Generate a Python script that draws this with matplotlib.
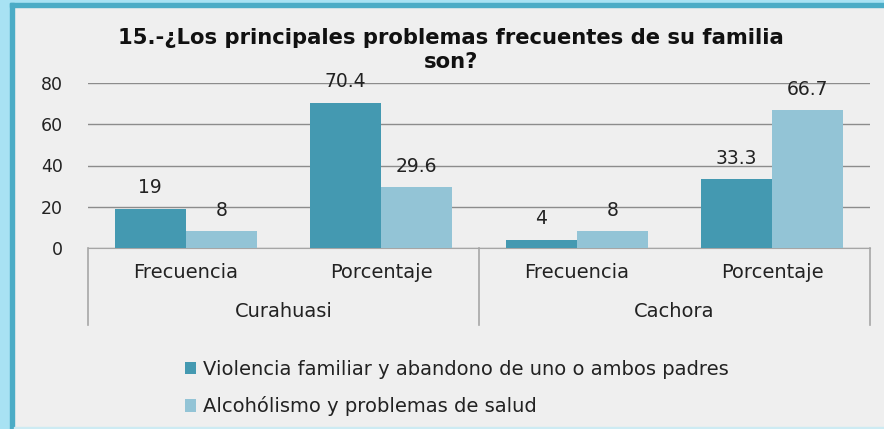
import numpy as np
import matplotlib
matplotlib.use("Agg")
import matplotlib.pyplot as plt
from matplotlib.patches import Rectangle
from matplotlib.lines import Line2D

plt.rcParams['font.family'] = ['DejaVu Sans']

# data
groups = ["Curahuasi", "Cachora"]
categories = ["Frecuencia", "Porcentaje", "Frecuencia", "Porcentaje"]
violencia = [19, 70.4, 4, 33.3]
alcoholismo = [8, 29.6, 8, 66.7]
violencia_labels = ["19", "70.4", "4", "33.3"]
alcoholismo_labels = ["8", "29.6", "8", "66.7"]
series_names = ["Violencia familiar y abandono de uno o ambos padres",
                "Alcohólismo y problemas de salud"]

dark = "#4499B1"
light = "#93C4D6"
bg = "#EFEFEF"
txt = "#222222"

W, H = 884, 429
fig = plt.figure(figsize=(W / 100, H / 100), dpi=100, facecolor=bg)

# frame (left + top border like the original image)
fig.patches.append(Rectangle((0, 0), 10 / W, 1, transform=fig.transFigure,
                             color="#A8E2F3", zorder=0))
fig.patches.append(Rectangle((0, 1 - 3 / H), 1, 3 / H, transform=fig.transFigure,
                             color="#A8E2F3", zorder=0))
fig.patches.append(Rectangle((10 / W, 0), 4 / W, 1 - 3 / H, transform=fig.transFigure,
                             color="#4BACC6", zorder=1))
fig.patches.append(Rectangle((10 / W, 1 - 7 / H), 1, 4 / H, transform=fig.transFigure,
                             color="#4BACC6", zorder=1))
fig.patches.append(Rectangle((14 / W, 0), 1, 2 / H, transform=fig.transFigure,
                             color="#CDEBF3", zorder=1))

ax = fig.add_axes([88 / W, 1 - 248 / H, (870 - 88) / W, (248 - 83) / H])
ax.set_facecolor(bg)

x = np.arange(len(categories))
bw = 0.363
b1 = ax.bar(x - bw / 2, violencia, bw, color=dark, zorder=3, label=series_names[0])
b2 = ax.bar(x + bw / 2, alcoholismo, bw, color=light, zorder=3, label=series_names[1])

for bars, labs in [(b1, violencia_labels), (b2, alcoholismo_labels)]:
    for rect, lab in zip(bars, labs):
        ax.annotate(lab, (rect.get_x() + rect.get_width() / 2, rect.get_height()),
                    xytext=(0, 15), textcoords="offset points", ha="center", va="center",
                    fontsize=13.5, color=txt)

ax.set_xlim(-0.5, len(categories) - 0.5)
ax.set_ylim(0, 80)
ax.set_yticks([0, 20, 40, 60, 80])
ax.tick_params(axis="y", length=0, labelsize=12.5, pad=18, labelcolor=txt)
ax.yaxis.grid(True, color="#8C8C8C", linewidth=1, zorder=0)
ax.set_xticks([])
for s in ["top", "right", "left"]:
    ax.spines[s].set_visible(False)
ax.spines["bottom"].set_color("#A6A6A6")

# category and group labels below axis
for xi, c in zip(x, categories):
    ax.text(xi, -0.15, c, transform=ax.get_xaxis_transform(), ha="center", va="center",
            fontsize=14, color=txt)
for gi, g in enumerate(groups):
    ax.text(2 * gi + 0.5, -0.385, g, transform=ax.get_xaxis_transform(), ha="center",
            va="center", fontsize=14, color=txt)
for xs in [-0.5, 1.5, 3.5]:
    ax.add_line(Line2D([xs, xs], [0, -0.467], transform=ax.get_xaxis_transform(),
                       color="#A6A6A6", linewidth=1.2, clip_on=False))

fig.text(451 / W, 1 - 50 / H, "15.-¿Los principales problemas frecuentes de su familia\nson?",
         ha="center", va="center", fontsize=15.2, fontweight="bold", color="#111111",
         linespacing=1.2)

leg = fig.legend(handles=[b1, b2], loc="upper left", bbox_to_anchor=(177 / W, 1 - 352 / H),
                 frameon=False, fontsize=14, handlelength=0.6, handleheight=0.6,
                 handletextpad=0.35, labelspacing=0.9, borderaxespad=0)
for t in leg.get_texts():
    t.set_color(txt)

fig.savefig("out.png", dpi=100, facecolor=bg)
